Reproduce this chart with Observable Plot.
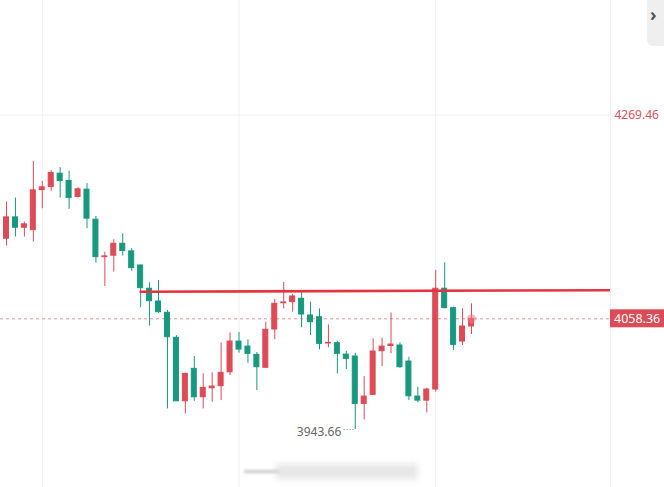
<!DOCTYPE html>
<html>
<head>
<meta charset="utf-8">
<script src="https://cdn.jsdelivr.net/npm/d3@7"></script>
<script src="https://cdn.jsdelivr.net/npm/@observablehq/plot@0.6"></script>
<style>
  html, body { margin: 0; padding: 0; background: #fff; }
  #wrap { position: relative; width: 664px; height: 487px; overflow: hidden; font-family: "Noto Sans", sans-serif; }
  #wrap svg { display: block; }
  .panel { position: absolute; left: 647px; top: 0; width: 17px; height: 46px; background: #efefef; border-bottom-left-radius: 6px; }
  .panel span { position: absolute; left: 3px; top: 4px; font-size: 18px; font-weight: bold; color: #555; line-height: 20px; }
  .wm1 { position: absolute; left: 244px; top: 470px; width: 36px; height: 3px; background: #c8c8c8; filter: blur(1.5px); }
  .wm2 { position: absolute; left: 276px; top: 464px; width: 142px; height: 15px; background: #dedede; filter: blur(3px); opacity: 0.75; }
</style>
</head>
<body>
<div id="wrap"></div>
<script>
// OHLC values (one candle per index)
const opens = [4141.3, 4163.4, 4152.7, 4150.2, 4191.7, 4194.8, 4208.7, 4201.1, 4184.5, 4192.1,
  4161.0, 4122.2, 4123.7, 4136.1, 4128.2, 4113.6, 4089.5, 4076.3, 4064.6, 4038.7,
  3972.9, 4006.5, 3977.1, 3986.4, 3988.5, 4003.0, 4034.8, 4029.6, 4021.0, 4007.6,
  4047.3, 4074.5, 4075.6, 4079.1, 4061.8, 4060.0, 4032.8, 4033.1, 4021.3, 4019.3,
  3970.2, 3979.6, 4024.8, 4030.2, 4030.7, 4014.1, 3977.8, 3973.6, 3985.1, 4089.5,
  4069.4, 4034.8, 4050.4];
const highs = [4179.3, 4183.4, 4158.5, 4221.5, 4200.7, 4211.8, 4215.0, 4211.4, 4194.2, 4198.4,
  4164.5, 4127.4, 4140.3, 4146.5, 4131.0, 4113.8, 4095.7, 4098.1, 4067.0, 4041.0,
  4002.0, 4019.3, 4001.3, 4002.4, 4033.1, 4043.9, 4044.2, 4036.6, 4023.4, 4054.8,
  4078.4, 4096.0, 4083.6, 4087.7, 4075.6, 4068.7, 4052.1, 4035.1, 4024.5, 4022.7,
  3998.5, 4037.6, 4038.3, 4064.4, 4033.5, 4018.5, 3987.4, 3986.4, 4108.5, 4116.4,
  4070.4, 4068.7, 4073.9];
const lows = [4133.7, 4143.0, 4143.0, 4137.8, 4172.4, 4190.4, 4183.4, 4171.7, 4183.4, 4151.7,
  4116.0, 4091.9, 4106.7, 4123.3, 4107.7, 4069.8, 4050.7, 4063.9, 3965.0, 3972.9,
  3959.9, 3972.9, 3965.0, 3971.9, 3973.6, 3999.6, 4022.7, 4012.3, 3984.0, 4007.5,
  4036.6, 4068.7, 4065.2, 4049.0, 4041.0, 4026.2, 4028.3, 4001.3, 4005.8, 3943.66,
  3953.6, 3978.8, 4008.9, 4022.1, 4007.1, 3973.6, 3971.3, 3960.9, 3982.3, 4068.7,
  4025.5, 4030.7, 4042.1];
const closes = [4163.4, 4152.7, 4156.2, 4191.4, 4194.5, 4209.4, 4201.1, 4183.4, 4192.5, 4162.1,
  4122.2, 4123.0, 4136.1, 4128.5, 4110.8, 4090.1, 4076.6, 4065.2, 4039.3, 3972.9,
  4001.3, 3977.1, 3986.8, 3988.2, 4002.4, 4034.8, 4026.5, 4022.1, 4008.2, 4047.0,
  4073.9, 4075.3, 4081.5, 4062.8, 4054.8, 4032.4, 4033.5, 4022.1, 4016.9, 3970.2,
  3977.8, 4024.5, 4029.6, 4031.7, 4008.2, 3978.1, 3973.6, 3985.1, 4089.5, 4069.4,
  4031.4, 4050.4, 4058.36];

// axis labels / gridlines
const axisLabels = [4269.46];
const gridPrices = [4269.46];
const gridCandles = [4, 26, 48];

// drawn horizontal trend line (candle index, price)
const trendIdx = [15, 67.6];
const trendPrice = [4086.4, 4088.0];

const RED = "#dc4b56";
const GREEN = "#17997f";
const LINE_RED = "#e5333f";

const candles = opens.map((o, i) => ({i, open: o, high: highs[i], low: lows[i], close: closes[i], up: closes[i] >= o}));
const last = candles[candles.length - 1];
const minLow = d3.min(lows);
const minIdx = lows.indexOf(minLow);
const trend = trendIdx.map((x, k) => ({x, y: trendPrice[k]}));
const hw = 0.28;

function badge(index, scales, values, dims) {
  const y = scales.y(last.close);
  const x0 = dims.width - dims.marginRight;
  const g = d3.create("svg:g");
  g.append("line").attr("x1", x0 + 0.5).attr("x2", x0 + 0.5).attr("y1", 0).attr("y2", dims.height)
    .attr("stroke", "#efefef");
  g.append("rect").attr("x", x0).attr("y", y - 9).attr("width", dims.marginRight).attr("height", 18)
    .attr("fill", RED);
  g.append("text").attr("x", x0 + 4).attr("y", y).attr("dy", "0.35em")
    .attr("text-anchor", "start")
    .attr("fill", "#fff").attr("font-size", 12.5).attr("font-family", "Noto Sans, sans-serif")
    .text(last.close.toFixed(2));
  return g.node();
}

const chart = Plot.plot({
  width: 664,
  height: 487,
  marginLeft: 0,
  marginRight: 54,
  marginTop: 0,
  marginBottom: 0,
  style: {fontFamily: "Noto Sans, sans-serif", background: "#fff"},
  x: {type: "linear", domain: [0, candles.length - 1], range: [6, 471], axis: null},
  y: {domain: [4058.36, 4269.46], range: [318.3, 114.5], axis: null},
  marks: [
    Plot.gridX(gridCandles, {stroke: "#f0f0f0", strokeOpacity: 1}),
    Plot.gridY(gridPrices, {stroke: "#f0f0f0", strokeOpacity: 1}),
    Plot.text(axisLabels, {y: d => d, text: d => d.toFixed(2), frameAnchor: "right", dx: 4, textAnchor: "start", fill: "#d9535e", fontSize: 12}),
    Plot.ruleY([last.close], {stroke: RED, strokeOpacity: 0.6, strokeDasharray: "3,3", strokeWidth: 1}),
    Plot.ruleX(candles, {x: "i", y1: "low", y2: "high", stroke: d => d.up ? RED : GREEN, strokeWidth: 1}),
    Plot.rect(candles, {x1: d => d.i - hw, x2: d => d.i + hw, y1: "open", y2: "close",
      fill: d => d.up ? RED : GREEN, stroke: d => d.up ? RED : GREEN, strokeWidth: 1}),
    Plot.line(trend, {x: "x", y: "y", stroke: LINE_RED, strokeWidth: 2.6, clip: true}),
    Plot.dot([last], {x: "i", y: "close", r: 4.5, fill: "#ef7b85", fillOpacity: 0.55, stroke: "none"}),
    Plot.ruleY([minLow], {x1: minIdx - 1.25, x2: minIdx - 0.1, stroke: "#888", strokeDasharray: "1,2", strokeWidth: 1}),
    Plot.text([minLow], {x: minIdx, y: d => d, text: d => d.toFixed(2), dx: -14, dy: 3, textAnchor: "end", fill: "#666", fontSize: 12}),
    badge
  ]
});

const wrap = document.getElementById("wrap");
wrap.appendChild(chart);
const panel = document.createElement("div");
panel.className = "panel";
panel.innerHTML = "<span>›</span>";
wrap.appendChild(panel);
const w1 = document.createElement("div"); w1.className = "wm1"; wrap.appendChild(w1);
const w2 = document.createElement("div"); w2.className = "wm2"; wrap.appendChild(w2);
</script>
</body>
</html>
